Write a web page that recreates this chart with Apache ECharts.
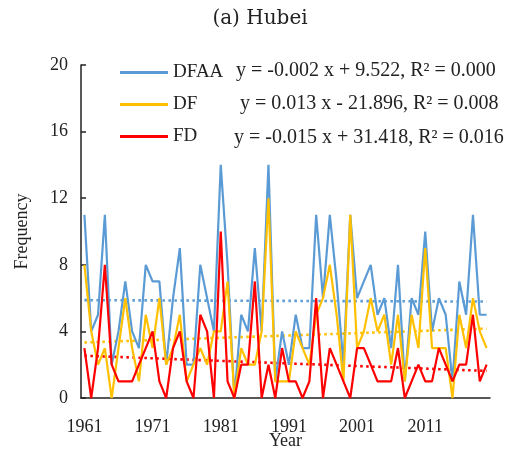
<!DOCTYPE html>
<html>
<head>
<meta charset="utf-8">
<script src="https://cdn.jsdelivr.net/npm/echarts@6/dist/echarts.min.js"></script>
<style>html,body{margin:0;padding:0;background:#fff;}#c{width:507px;height:453px;}</style>
</head>
<body>
<div id="c"></div>
<script>
var years = [];
for (var y = 1961; y <= 2020; y++) years.push(String(y));
var DFAA = [11,4,5,11,2,4,7,4,3,8, 7,7,2,6,9,2,2,8,6,4, 14,8,0,5,4,9,4,14,1,4, 2,5,3,3,11,6,11,7,2,11, 6,7,8,5,6,3,8,1,6,5, 10,4,6,5,1,7,5,11,5,5];
var DF   = [8,4,2,3,0,3,6,3,1,5, 3,6,2,3,5,1,2,3,2,4, 4,7,0,3,2,2,4,12,1,1, 1,4,3,2,5,6,8,5,1,11, 3,4,6,4,5,2,5,1,5,3, 9,3,3,3,0,5,3,6,4,3];
var FD   = [3,0,3,8,2,1,1,1,2,3, 4,1,0,3,4,1,0,5,4,0, 10,1,0,2,2,7,0,2,0,3, 1,1,0,1,6,0,3,2,1,0, 3,3,2,1,1,1,3,0,1,2, 1,1,3,2,1,2,2,5,1,2];
var seriesNames = ['DFAA','DF','FD'];
var equations = ['y = -0.002 x + 9.522, R\u00b2 = 0.000','y = 0.013 x - 21.896, R\u00b2 = 0.008','y = -0.015 x + 31.418, R\u00b2 = 0.016'];
var colors = ['#5B9BD5','#FFC000','#FF0000'];
var titleText = '(a) Hubei';

function trend(arr){
  var n = arr.length, sx=0, sy=0, sxx=0, sxy=0;
  for (var i=0;i<n;i++){ sx+=i; sy+=arr[i]; sxx+=i*i; sxy+=i*arr[i]; }
  var b = (n*sxy - sx*sy)/(n*sxx - sx*sx);
  var a = (sy - b*sx)/n;
  var out = [];
  for (var j=0;j<n;j++) out.push(+(a+b*j).toFixed(3));
  return out;
}
var datas = [DFAA, DF, FD];
var FONT = 'Liberation Serif';
var series = [];
for (var k=0;k<3;k++){
  series.push({name: seriesNames[k], type:'line', data: datas[k], symbol:'none',
    lineStyle:{color:colors[k], width:2.2}, itemStyle:{color:colors[k]}, z: 3+k, animation:false});
}
for (var k2=0;k2<3;k2++){
  series.push({name: seriesNames[k2]+' trend', type:'line', data: trend(datas[k2]), symbol:'none',
    lineStyle:{color:colors[k2], width:2.6, type:[2.5,3.5]}, z: 2, animation:false, silent:true});
}
var chart = echarts.init(document.getElementById('c'));
chart.setOption({
  backgroundColor:'#fff',
  animation:false,
  grid:{left:81, right:17, top:65, bottom:55, outerBoundsMode:'none', containLabel:false},
  legend:{data: seriesNames, orient:'vertical', left:115, top:58, icon:'rect', itemWidth:48, itemHeight:3, itemGap:13,
    textStyle:{fontFamily:FONT, fontSize:19, color:'#222'}},
  xAxis:{type:'category', data: years, boundaryGap:true,
    name:'Year', nameLocation:'middle', nameGap:34, nameMoveOverlap:false, nameTextStyle:{fontFamily:FONT, fontSize:18, color:'#222'},
    axisLine:{lineStyle:{color:'#222', width:1.5}},
    axisTick:{inside:true, length:5, interval:9, lineStyle:{color:'#222', width:1.5}},
    axisLabel:{interval:9, margin:20, fontFamily:FONT, fontSize:18, color:'#222'},
    splitLine:{show:false}},
  yAxis:{type:'value', min:0, max:20, interval:4,
    name:'Frequency', nameLocation:'middle', nameGap:50, nameRotate:90, nameMoveOverlap:false, nameTextStyle:{fontFamily:FONT, fontSize:18, color:'#222'},
    axisLine:{show:true, lineStyle:{color:'#222', width:1.5}},
    axisTick:{show:true, inside:true, length:5, lineStyle:{color:'#222', width:1.5}},
    axisLabel:{margin:13, fontFamily:FONT, fontSize:18, color:'#222'},
    splitLine:{show:false}},
  graphic:[
    {type:'text', style:{x:260, y:19, text:titleText, font:'20px "DejaVu Serif"', fill:'#222', textAlign:'center', textVerticalAlign:'middle'}},
    {type:'text', style:{x:236, y:71, text:equations[0], font:'20px "Liberation Serif"', fill:'#222', textAlign:'left', textVerticalAlign:'middle'}},
    {type:'text', style:{x:240, y:104, text:equations[1], font:'20px "Liberation Serif"', fill:'#222', textAlign:'left', textVerticalAlign:'middle'}},
    {type:'text', style:{x:234, y:138, text:equations[2], font:'20px "Liberation Serif"', fill:'#222', textAlign:'left', textVerticalAlign:'middle'}}
  ],
  series: series
});
</script>
</body>
</html>
